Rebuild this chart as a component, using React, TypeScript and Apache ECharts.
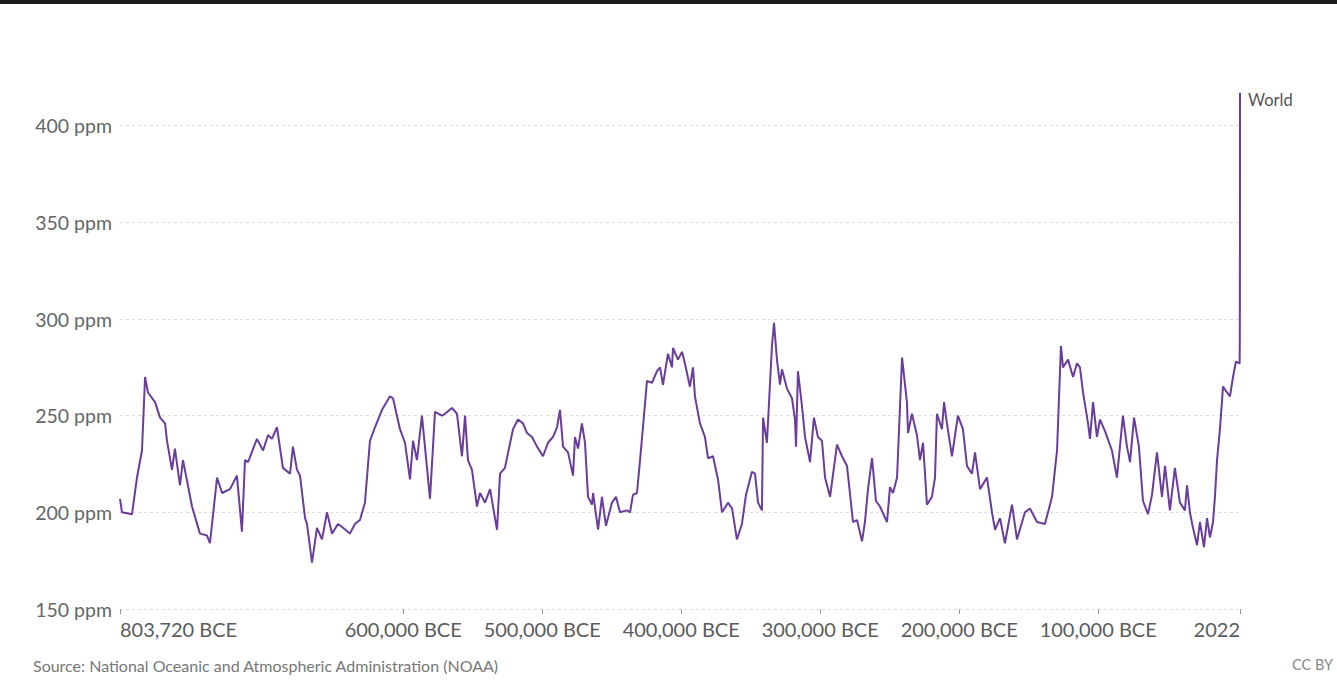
import React, { useEffect, useRef } from "react";
import * as echarts from "echarts";

const years: number[] = [
  -803720, -802300, -795100, -791500, -787900, -785700, -783600, -778500, -774900, -771300,
  -769900, -766300, -764200, -760600, -758400, -751900, -746200, -741100, -739000, -733900,
  -730300, -724600, -719600, -716000, -713800, -711600, -705200, -700800, -697200, -694400,
  -690800, -686500, -681400, -679300, -676400, -674200, -670600, -669200, -665600, -662000,
  -658400, -654800, -651200, -646900, -643300, -638300, -634700, -631100, -627500, -623900,
  -620300, -615200, -609500, -607300, -602300, -598700, -595100, -592900, -590100, -586500,
  -580700, -577100, -572100, -569900, -564900, -561300, -557700, -555500, -553400, -550500,
  -546900, -544700, -541100, -537500, -532500, -530300, -526800, -521000, -517400, -513800,
  -510900, -507300, -503700, -499400, -495800, -492200, -489300, -487200, -485000, -481400,
  -477800, -476400, -474200, -471400, -469200, -467000, -464200, -463400, -459800, -457000,
  -454100, -449800, -446900, -444000, -439000, -436800, -434700, -431800, -429600, -427500,
  -424600, -421000, -417400, -415200, -413100, -409500, -406600, -405900, -402300, -399400,
  -397300, -393700, -391500, -390100, -386500, -382900, -380700, -377100, -373500, -370600,
  -366300, -363400, -359900, -356300, -353400, -349100, -346900, -344700, -341900, -341100,
  -338300, -334700, -333200, -331100, -328900, -327500, -323900, -320300, -318100, -317400,
  -316000, -313100, -310900, -307300, -304500, -301600, -298700, -296500, -292900, -287900,
  -284300, -280700, -276400, -273500, -269900, -267800, -265600, -262700, -259900, -257000,
  -251900, -249800, -247600, -244700, -241100, -237600, -236800, -234000, -230400, -228200,
  -226000, -223200, -219600, -217400, -216000, -212400, -210900, -208800, -205200, -200900,
  -197300, -194400, -190800, -188600, -185000, -180000, -176400, -174200, -170600, -167100,
  -162000, -158400, -152700, -149100, -144000, -138300, -133200, -129600, -126800, -125300,
  -121700, -118100, -115300, -113100, -110900, -107300, -105900, -103700, -100900, -98700,
  -95100, -90100, -86500, -82200, -79300, -77100, -74200, -70700, -67800, -64200,
  -61300, -57700, -54100, -51900, -48400, -44800, -41200, -37600, -36100, -34000,
  -31800, -28900, -26800, -23900, -21700, -19600, -17400, -16000, -14500, -12400,
  -10200, -7300, -5200, -3000, -900, 1750, 1850, 1900, 1950, 1980,
  2000, 2010, 2022,
];

const ppm: number[] = [
  207, 200, 199, 218, 232, 270, 262, 257, 249, 246,
  237, 222, 233, 214, 227, 203, 189, 188, 184, 218,
  210, 212, 219, 190, 227, 226, 238, 232, 240, 238,
  244, 223, 220, 234, 222, 219, 197, 194, 174, 192,
  186, 200, 189, 194, 192, 189, 194, 196, 205, 237,
  244, 253, 260, 259, 243, 236, 217, 237, 227, 250,
  207, 252, 250, 251, 254, 251, 229, 250, 227, 222,
  203, 210, 205, 212, 191, 220, 223, 243, 248, 246,
  241, 239, 234, 229, 236, 239, 244, 253, 234, 231,
  219, 239, 233, 246, 236, 208, 204, 210, 191, 208,
  193, 205, 208, 200, 201, 200, 209, 210, 227, 244,
  268, 267, 273, 275, 266, 282, 275, 285, 279, 283,
  277, 265, 275, 260, 246, 239, 228, 229, 217, 200,
  205, 202, 186, 194, 209, 221, 220, 205, 201, 249,
  236, 286, 298, 279, 266, 274, 264, 259, 248, 234,
  273, 255, 239, 226, 249, 239, 237, 218, 208, 235,
  229, 224, 195, 196, 185, 195, 212, 228, 206, 203,
  195, 213, 210, 218, 280, 257, 241, 251, 240, 227,
  236, 204, 208, 218, 251, 243, 257, 246, 229, 250,
  243, 224, 220, 231, 212, 218, 200, 191, 197, 184,
  204, 186, 200, 202, 195, 194, 208, 232, 286, 275,
  279, 270, 277, 275, 262, 246, 238, 257, 239, 248,
  242, 232, 218, 250, 234, 226, 249, 234, 206, 199,
  209, 231, 208, 224, 201, 223, 205, 201, 214, 200,
  192, 183, 195, 182, 197, 187, 195, 208, 227, 243,
  265, 262, 260, 270, 278, 277, 285, 296, 311, 339,
  369, 389, 417,
];

const xTicks: number[] = [-803720, -600000, -500000, -400000, -300000, -200000, -100000, 2022];
const yTicks: number[] = [150, 200, 250, 300, 350, 400];
const seriesName = "World";
const sourceText = "Source: National Oceanic and Atmospheric Administration (NOAA)";
const licenseText = "CC BY";

const FONT = "Lato, 'Noto Sans', sans-serif";

function fmtYear(v: number): string {
  if (v < 0) return `${Math.abs(v).toLocaleString("en-US")} BCE`;
  return String(v);
}

export default function App() {
  const ref = useRef<HTMLDivElement>(null);

  useEffect(() => {
    if (!ref.current) return;
    const chart = echarts.init(ref.current, undefined, { renderer: "svg" });
    const data = years.map((y, i) => [y, ppm[i]]);
    chart.setOption({
      animation: false,
      backgroundColor: "#ffffff",
      grid: { left: 120, right: 97, top: 87, bottom: 79 },
      xAxis: {
        type: "value",
        min: years[0],
        max: years[years.length - 1],
        axisLine: { show: false },
        splitLine: { show: false },
        axisTick: {
          show: true,
          customValues: xTicks,
          length: 5,
          lineStyle: { color: "#999" },
        },
        axisLabel: {
          customValues: xTicks,
          formatter: (v: number) => fmtYear(v),
          color: "#5b5b5b",
          fontFamily: FONT,
          fontSize: 20,
          margin: 10,
          alignMinLabel: "left",
          alignMaxLabel: "right",
        },
      },
      yAxis: {
        type: "value",
        min: yTicks[0],
        max: 420,
        interval: 50,
        axisLine: { show: false },
        axisTick: { show: false },
        axisLabel: {
          showMaxLabel: false,
          formatter: (v: number) => (v % 50 === 0 ? `${v} ppm` : ""),
          color: "#666",
          fontFamily: FONT,
          fontSize: 19.5,
          margin: 8,
        },
        splitLine: {
          show: true,
          showMaxLine: false,
          lineStyle: { color: "#dddddd", type: [3, 3], width: 1 },
        },
      },
      series: [
        {
          name: seriesName,
          type: "line",
          data,
          showSymbol: false,
          symbol: "none",
          lineStyle: { color: "#6A3D9A", width: 2 },
          endLabel: {
            show: true,
            formatter: seriesName,
            color: "#555",
            fontFamily: FONT,
            fontSize: 16.5,
            offset: [0, 7],
          },
        },
      ],
      graphic: [
        {
          type: "text",
          left: 33,
          top: 657,
          style: { text: sourceText, fill: "#777", font: `16px ${FONT}` },
        },
        {
          type: "text",
          right: 4,
          top: 657,
          style: { text: licenseText, fill: "#888", font: `14.5px ${FONT}` },
        },
      ],
    });
    return () => chart.dispose();
  }, []);

  return (
    <div style={{ position: "fixed", left: 0, top: 0, width: 1337, height: 688, background: "#fff" }}>
      <div style={{ position: "absolute", left: 0, top: 0, width: 1337, height: 4, background: "#1c1c1c", zIndex: 2 }} />
      <div ref={ref} style={{ position: "absolute", left: 0, top: 0, width: 1337, height: 688 }} />
    </div>
  );
}
